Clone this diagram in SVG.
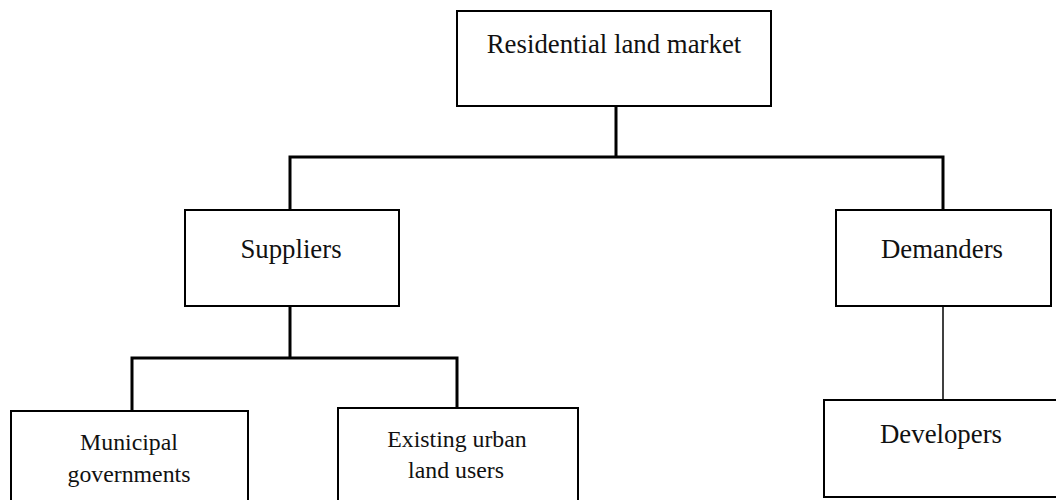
<svg xmlns="http://www.w3.org/2000/svg" width="1056" height="500" viewBox="0 0 1056 500">
<style>
.box{fill:#fff;stroke:#000;stroke-width:2}
.t{font-family:"Liberation Serif","Times New Roman",serif;fill:#111;text-anchor:middle}
.lg{font-size:26.8px}
.sm{font-size:23.8px}
.c{fill:none;stroke:#000;stroke-width:3;stroke-linecap:square}
.thin{fill:none;stroke:#000;stroke-width:1.5}
</style>
<rect width="1056" height="500" fill="#fff"/>
<g id="connectors">
<path class="c" d="M616 106 V157 M290 157 H943 M290 157 V210 M943 157 V210"/>
<path class="c" d="M290 306 V358 M132 358 H457 M132 358 V411 M457 358 V408"/>
<path class="thin" d="M943 306 V400"/>
</g>
<g id="root"><rect class="box" x="457" y="11" width="314" height="95"/><text class="t lg" x="614" y="53">Residential land market</text></g>
<g id="suppliers"><rect class="box" x="185" y="210" width="214" height="96"/><text class="t lg" x="291" y="258">Suppliers</text></g>
<g id="demanders"><rect class="box" x="836" y="210" width="215" height="96"/><text class="t lg" x="942" y="258">Demanders</text></g>
<g id="municipal"><rect class="box" x="11" y="411" width="237" height="95"/><text class="t sm" x="129" y="450">Municipal</text><text class="t sm" x="129" y="482">governments</text></g>
<g id="existing"><rect class="box" x="338" y="408" width="240" height="98"/><text class="t sm" x="457" y="447">Existing urban</text><text class="t sm" x="456" y="478">land users</text></g>
<g id="developers"><rect class="box" x="824" y="400" width="240" height="97"/><text class="t lg" x="941" y="443">Developers</text></g>
</svg>
